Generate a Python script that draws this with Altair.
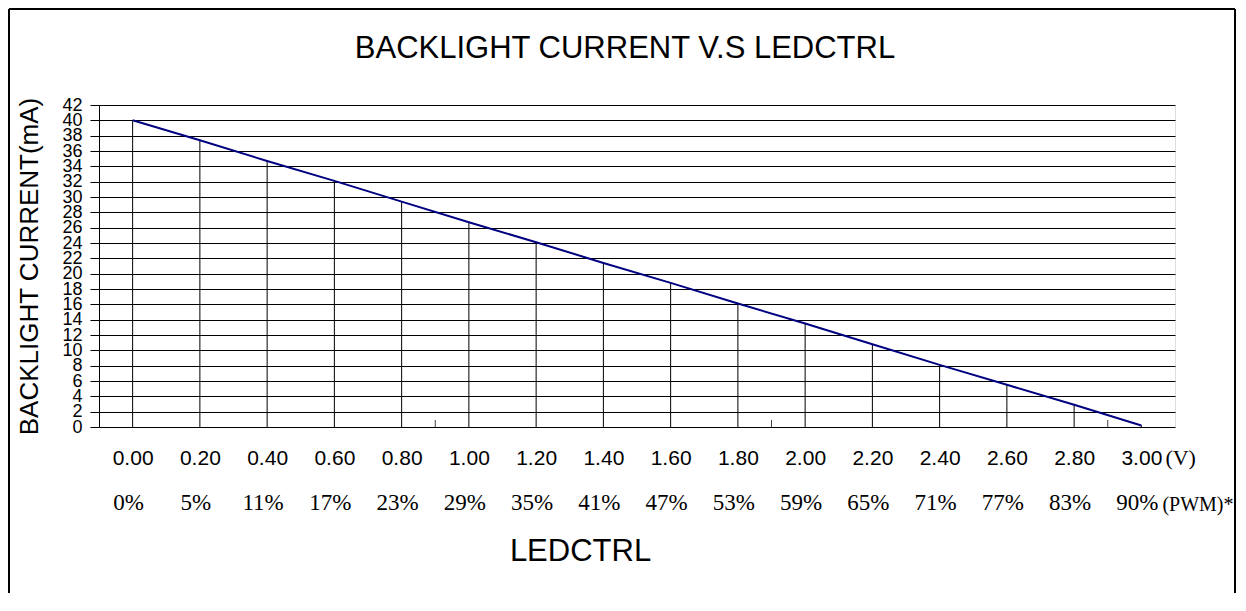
import altair as alt
import pandas as pd

# ---- data ----
voltage = [0.0, 0.2, 0.4, 0.6, 0.8, 1.0, 1.2, 1.4, 1.6, 1.8, 2.0, 2.2, 2.4, 2.6, 2.8, 3.0]
current = [40.0, 37.4, 34.7, 32.1, 29.4, 26.7, 24.1, 21.4, 18.8, 16.1, 13.5, 10.8, 8.1, 5.5, 2.9, 0.2]
pwm_labels = ["0%", "5%", "11%", "17%", "23%", "29%", "35%", "41%", "47%",
              "53%", "59%", "65%", "71%", "77%", "83%", "90%"]
y_ticks = list(range(0, 43, 2))
minor_marks = [0.9, 1.9, 2.9]
unit_text = ["(V)", "(PWM)*"]
chart_title = "BACKLIGHT CURRENT V.S LEDCTRL"

df = pd.DataFrame({"v": voltage, "i": current, "pwm": pwm_labels})

W, H = 1076, 322
SANS = "Liberation Sans"
SERIF = "Liberation Serif"

xs = alt.Scale(domain=[-0.1, 3.1], nice=False, zero=False)
ys = alt.Scale(domain=[0, 42], nice=False)

x_axis = alt.Axis(
    values=voltage, format=".2f",
    labelFont=SANS, labelFontSize=21, labelColor="black", labelPadding=20,
    labelOverlap=False, labelFlush=False,
    ticks=False, tickSize=0, domain=False, grid=False,
    title="LEDCTRL", titleFont=SANS, titleFontSize=31, titleFontWeight="normal",
    titleColor="black", titleX=481, titleY=124, titleAlign="center", titleBaseline="middle",
)
y_axis = alt.Axis(
    values=y_ticks, tickCount=22,
    labelFont=SANS, labelFontSize=18, labelColor="black", labelPadding=8,
    labelOverlap=False, labelFlush=False,
    tickSize=9, tickColor="black", domainColor="black", domainWidth=1,
    grid=True, gridColor="black", gridWidth=1, gridOpacity=1,
    title="BACKLIGHT CURRENT(mA)", titleFont=SANS, titleFontSize=26, titleFontWeight="normal",
    titleColor="black", titleX=-70, titleY=161, titleAlign="center", titleBaseline="middle",
)

X = lambda f: alt.X(f, scale=xs, axis=x_axis)
Y = lambda f: alt.Y(f, scale=ys, axis=y_axis)

base = alt.Chart(df)
one = alt.Chart(pd.DataFrame({"k": [0]}))

# outer frame (left, top, right; bottom edge lies below the window)
FL, FR, FT, FB = -90, 1136, -96, 600
frame_top = one.mark_rule(color="black", strokeWidth=2).encode(
    x=alt.value(FL), x2=alt.value(FR), y=alt.value(FT))
frame_left = one.mark_rule(color="black", strokeWidth=2).encode(
    x=alt.value(FL), y=alt.value(FT), y2=alt.value(FB))
frame_right = one.mark_rule(color="black", strokeWidth=2).encode(
    x=alt.value(FR), y=alt.value(FT), y2=alt.value(FB))

title_txt = alt.Chart(pd.DataFrame({"t": [chart_title]})).mark_text(
    font=SANS, fontSize=31, baseline="middle", align="center", color="black"
).encode(x=alt.value(526), y=alt.value(-56), text="t:N")

drops = base.mark_rule(color="black", strokeWidth=1).encode(
    x=X("v:Q"), y=Y("i:Q"), y2=alt.datum(0),
)

minor = alt.Chart(pd.DataFrame({"m": minor_marks})).mark_rule(color="#404040", strokeWidth=1).encode(
    x=X("m:Q"), y=alt.value(H - 7), y2=alt.value(H)
)

line = base.mark_line(color="#000080", strokeWidth=2).encode(
    x=X("v:Q"), y=Y("i:Q")
)

pwm = base.mark_text(font=SERIF, fontSize=23, baseline="middle", align="center", dx=-4, color="black").encode(
    x=X("v:Q"), y=alt.value(398), text="pwm:N"
)

unit_v = alt.Chart(pd.DataFrame({"v": [voltage[-1]], "t": [unit_text[0]]})).mark_text(
    font=SERIF, fontSize=22, baseline="middle", align="left", dx=24, color="black"
).encode(x=X("v:Q"), y=alt.value(353), text="t:N")

unit_p = alt.Chart(pd.DataFrame({"v": [voltage[-1]], "t": [unit_text[1]]})).mark_text(
    font=SERIF, fontSize=20, baseline="middle", align="left", dx=21, color="black"
).encode(x=X("v:Q"), y=alt.value(400), text="t:N")

chart = alt.layer(frame_top, frame_left, frame_right, drops, minor, line, pwm,
                  unit_v, unit_p, title_txt).properties(
    width=W, height=H,
    autosize=alt.AutoSizeParams(type="none"),
    padding={"left": 91, "top": 97, "right": 63, "bottom": 166},
).configure_view(
    fill="#C0C0C0", stroke="#808080", strokeWidth=2
).configure(background="white")

chart.save("out.html", embed_options={"renderer": "svg", "actions": False})
